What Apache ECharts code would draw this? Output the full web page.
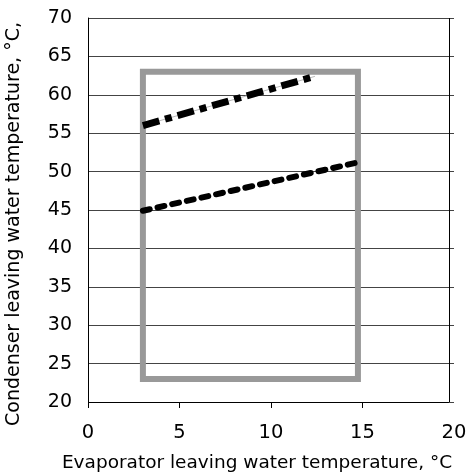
<!DOCTYPE html>
<html>
<head>
<meta charset="utf-8">
<script src="https://cdn.jsdelivr.net/npm/echarts@6/dist/echarts.min.js"></script>
<style>
  html, body { margin: 0; padding: 0; background: #fff; }
  #chart { width: 470px; height: 475px; }
</style>
</head>
<body>
<div id="chart"></div>
<script>
// Operating envelope: evaporator vs condenser leaving water temperature (°C)
const envelopeX = [3, 3, 14.75, 14.75, 3];
const envelopeY = [23, 63, 63, 23, 23];

// Upper limit line (dash-dot)
const upperX = [3, 12.4];
const upperY = [56, 62.4];

// Lower limit line (dotted)
const lowerX = [3, 14.75];
const lowerY = [44.9, 51.2];

// Axis ranges and tick labels
const xTicks = [0, 5, 10, 15, 20];
const yTicks = [20, 25, 30, 35, 40, 45, 50, 55, 60, 65, 70];
const xTickMarks = [0, 5, 10, 15];

// Plot frame (right and bottom border)
const frameRight = 19.72;

const xTitle = 'Evaporator leaving water temperature, °C';
const yTitle = 'Condenser leaving water temperature, °C,';

const pairs = (xs, ys) => xs.map((x, i) => [x, ys[i]]);

const chart = echarts.init(document.getElementById('chart'), null, { renderer: 'canvas' });

const labelFont = '"DejaVu Sans", Verdana, sans-serif';

chart.setOption({
  animation: false,
  backgroundColor: '#ffffff',
  grid: {
    left: 88, right: 16, top: 18, bottom: 73,
    containLabel: false,
    outerBoundsMode: 'none'
  },
  xAxis: {
    type: 'value',
    min: xTicks[0],
    max: xTicks[xTicks.length - 1],
    interval: 5,
    name: xTitle,
    nameLocation: 'middle',
    nameGap: 52,
    nameTextStyle: {
      fontFamily: labelFont, fontSize: 18.5, color: '#000',
      padding: [0, 28, 0, 0]
    },
    axisLine: { show: false },
    axisTick: {
      show: true, length: 6, inside: false,
      customValues: xTickMarks,
      lineStyle: { color: '#000', width: 1 }
    },
    axisLabel: {
      fontFamily: labelFont, fontSize: 19.5, color: '#000', margin: 21,
      customValues: xTicks
    },
    splitLine: { show: false }
  },
  yAxis: {
    type: 'value',
    min: yTicks[0],
    max: yTicks[yTicks.length - 1],
    interval: 5,
    name: yTitle,
    nameLocation: 'middle',
    nameGap: 64,
    nameTextStyle: {
      fontFamily: labelFont, fontSize: 19, color: '#000',
      padding: [0, 28, 0, 0]
    },
    axisLine: { show: true, lineStyle: { color: '#000', width: 1 } },
    axisTick: { show: false },
    axisLabel: { fontFamily: labelFont, fontSize: 19, color: '#000', margin: 16 },
    splitLine: { show: true, lineStyle: { color: '#444', width: 1 } }
  },
  series: [
    {
      name: 'frame',
      type: 'line',
      data: [],
      silent: true,
      markLine: {
        silent: true,
        symbol: 'none',
        label: { show: false },
        lineStyle: { color: '#000', width: 1, type: 'solid' },
        data: [
          [{ coord: [frameRight, yTicks[0]] }, { coord: [frameRight, yTicks[yTicks.length - 1]] }],
          [{ coord: [xTicks[0], yTicks[0]] }, { coord: [frameRight, yTicks[0]] }]
        ]
      }
    },
    {
      name: 'Envelope',
      type: 'line',
      data: pairs(envelopeX, envelopeY),
      showSymbol: false,
      silent: true,
      lineStyle: { color: '#999999', width: 6, join: 'miter', cap: 'square' }
    },
    {
      name: 'Upper limit guide',
      type: 'line',
      data: pairs(upperX, upperY),
      showSymbol: false,
      silent: true,
      lineStyle: { color: '#bbbbbb', width: 1 }
    },
    {
      name: 'Upper limit',
      type: 'line',
      data: pairs(upperX, upperY),
      showSymbol: false,
      silent: true,
      lineStyle: { color: '#000', width: 7, type: [17, 6, 7, 6], cap: 'butt' }
    },
    {
      name: 'Lower limit',
      type: 'line',
      data: pairs(lowerX, lowerY),
      showSymbol: false,
      silent: true,
      lineStyle: { color: '#000', width: 6, type: [7, 8], cap: 'round' }
    }
  ]
});
</script>
</body>
</html>
